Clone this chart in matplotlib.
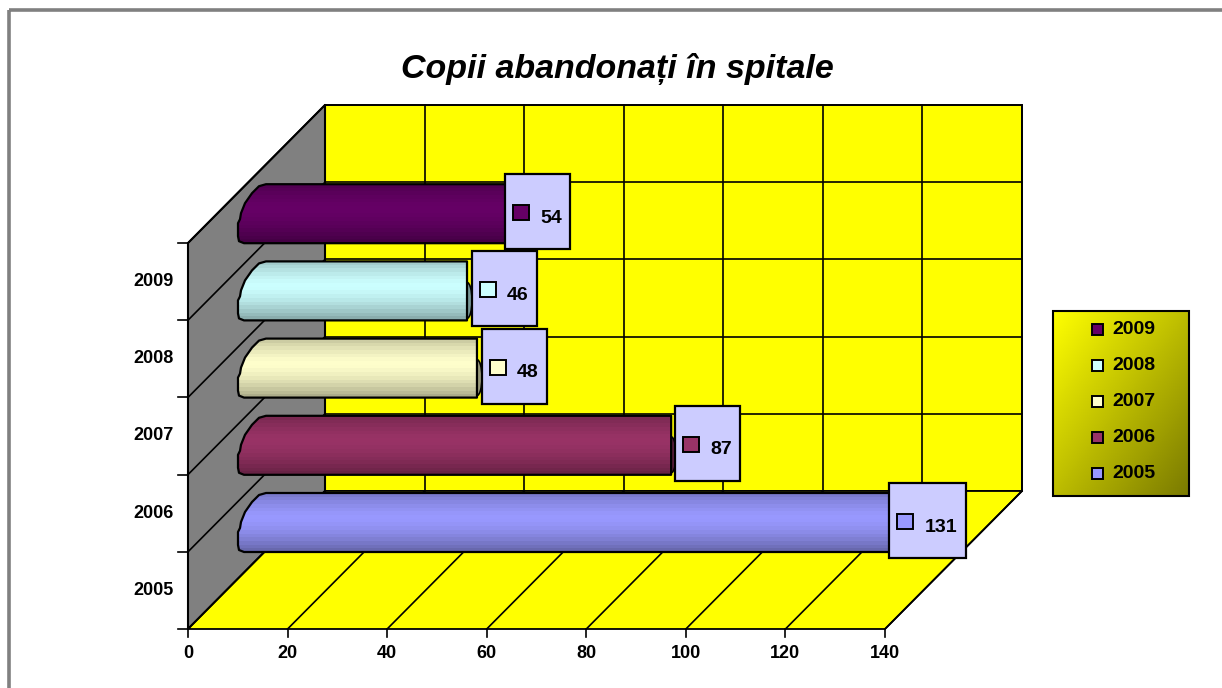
#!/usr/bin/env python3
"""Copii abandonati in spitale: Excel-style 3D cylinder bars with data boxes."""
import numpy as np
import matplotlib
matplotlib.use("Agg")
import matplotlib.pyplot as plt
from matplotlib.colors import LinearSegmentedColormap
from matplotlib.patches import PathPatch, Rectangle
from matplotlib.path import Path

plt.rcParams["font.family"] = ["Liberation Sans", "DejaVu Sans"]

TITLE = "Copii abandonați în spitale"
YEARS = ["2005", "2006", "2007", "2008", "2009"]
VALUES = [131, 87, 48, 46, 54]
COLORS = ["#9999FF", "#993366", "#FFFFCC", "#CCFFFF", "#660066"]
XTICKS = [0, 20, 40, 60, 80, 100, 120, 140]

W, H = 1222, 688
# projection, in pixels
X0, X1 = 188, 885      # value 0 and 140 on the front edge
Y_FRONT, ROW = 629, 77.2
DX, DY = 137, 138      # depth shift to the back wall
TOP = 243              # front top of the wall
BAR_X = 50             # bars sit this far in from the front plane
BOX_NUDGE = [-1, 4, 5, 5, -2]

PX = (X1 - X0) / 140
BLACK = "#000000"


def vx(v):
    return X0 + v * PX


def shade(hex_color, f):
    c = np.array(matplotlib.colors.to_rgb(hex_color))
    return c * f


def draw_bar(ax, value, color, bottom):
    left = X0 + BAR_X
    right = left + value * PX
    top = bottom - 59
    verts = [(right, bottom), (left + 6, bottom), (left + 1, bottom - 2), (left, bottom - 7),
             (left, bottom - 20), (left + 2, bottom - 24), (left + 3, bottom - 30),
             (left + 7, bottom - 40), (left + 14, bottom - 50), (left + 21, bottom - 57),
             (left + 28, top), (right, top), (right, bottom)]
    # dark end cap, mostly hidden behind the label box
    ax.add_patch(plt.matplotlib.patches.Ellipse((right, bottom - 20), 10, 36, fc=shade(color, 0.6),
                                                ec=BLACK, lw=1.2, zorder=3))
    path = Path(verts + [verts[0]], [Path.MOVETO] + [Path.LINETO] * (len(verts) - 1) + [Path.CLOSEPOLY])
    outline = PathPatch(path, fc="none", ec=BLACK, lw=1.6, zorder=5, joinstyle="round")
    # stepped vertical shading: dark at the edges, lightest just above the middle
    t = np.linspace(0, 1, 16)
    f = 1 - 0.32 * np.abs(t - 0.42) ** 1.5 / 0.58 ** 1.5 * 1.0
    img = np.array([shade(color, k) for k in f])[:, None, :]
    im = ax.imshow(img, extent=(left, right, bottom, top), aspect="auto", zorder=4,
                   interpolation="nearest", origin="upper")
    im.set_clip_path(PathPatch(path, transform=ax.transData))
    ax.add_patch(outline)


def draw_box(ax, value, color, label, bottom, nudge):
    left = X0 + BAR_X + value * PX + nudge
    width = 77 if value > 99 else 65
    ax.add_patch(Rectangle((left, bottom - 69), width, 75, fc="#CCCCFF", ec=BLACK, lw=1.6, zorder=6))
    ax.add_patch(Rectangle((left + 8, bottom - 38), 16, 15, fc=color, ec=BLACK, lw=1.4, zorder=7))
    ax.text(left + width - (25 if value > 99 else 19), bottom - 25, label, fontsize=14, fontweight="bold",
            ha="center", va="center", zorder=7)


def main():
    fig = plt.figure(figsize=(W / 100, H / 100), dpi=100)
    ax = fig.add_axes([0, 0, 1, 1])
    ax.set_xlim(0, W)
    ax.set_ylim(H, 0)
    ax.axis("off")

    # chart-area frame
    ax.add_patch(Rectangle((9, 10), W + 20, H + 20, fc="none", ec="#808080", lw=2.6, zorder=1))
    ax.text(617, 69, TITLE, fontsize=24.5, fontweight="bold", fontstyle="italic", ha="center", va="center")

    # back wall, side wall, floor
    y_back = Y_FRONT - DY
    ax.add_patch(Rectangle((X0 + DX, TOP - DY), X1 - X0, Y_FRONT - TOP, fc="#FFFF00", ec=BLACK, lw=1.3, zorder=2))
    ax.fill([X0, X0 + DX, X0 + DX, X0], [TOP, TOP - DY, y_back, Y_FRONT], fc="#808080", ec=BLACK, lw=1.5, zorder=2)
    ax.fill([X0, X1, X1 + DX, X0 + DX], [Y_FRONT, Y_FRONT, y_back, y_back], fc="#FFFF00", ec=BLACK, lw=1.3, zorder=2)

    for k in range(len(YEARS) + 1):
        y = Y_FRONT - k * ROW
        ax.plot([X0 - 10, X0], [y, y], color=BLACK, lw=1.2, zorder=3)
        if k:
            ax.plot([X0, X0 + DX], [y, y - DY], color=BLACK, lw=1.2, zorder=3)
            ax.plot([X0 + DX, X1 + DX], [y - DY, y - DY], color=BLACK, lw=1.2, zorder=3)
    for t in XTICKS:
        x = vx(t)
        ax.plot([x, x], [Y_FRONT, Y_FRONT + 8], color=BLACK, lw=1.2, zorder=3)
        ax.plot([x, x + DX], [Y_FRONT, y_back], color=BLACK, lw=1.2, zorder=3)
        ax.plot([x + DX, x + DX], [y_back, TOP - DY], color=BLACK, lw=1.2, zorder=3)
        ax.text(x, 654, str(t), fontsize=13, fontweight="bold", ha="center", va="center")

    for i, year in enumerate(YEARS):
        ax.text(153, Y_FRONT - (i + 0.5) * ROW, year, fontsize=13, fontweight="bold", ha="center", va="center")
        bottom = Y_FRONT - (i + 1) * ROW + 0.2
        draw_bar(ax, VALUES[i], COLORS[i], bottom)
    for i, year in enumerate(YEARS):
        bottom = Y_FRONT - (i + 1) * ROW + 0.2
        draw_box(ax, VALUES[i], COLORS[i], str(VALUES[i]), bottom, BOX_NUDGE[i])

    # legend with diagonal yellow-to-olive fill
    lx0, lx1, ly0, ly1 = 1053, 1190, 311, 496
    cmap = LinearSegmentedColormap.from_list("leg", ["#FFFF00", "#7A7A00"])
    gx, gy = np.meshgrid(np.linspace(0, 1, 64), np.linspace(0, 1, 64))
    ax.imshow((gx + gy) / 2, extent=(lx0, lx1, ly1, ly0), cmap=cmap, aspect="auto", zorder=2, origin="upper")
    ax.add_patch(Rectangle((lx0, ly0), lx1 - lx0 - 1, ly1 - ly0, fc="none", ec=BLACK, lw=1.5, zorder=3))
    for i, year in enumerate(YEARS):
        y = 474 - i * 36
        ax.add_patch(Rectangle((1091.5, y - 6), 11, 11, fc=COLORS[i], ec=BLACK, lw=1.4, zorder=4))
        ax.text(1134, y, year, fontsize=14, fontweight="bold", ha="center", va="center", zorder=4)

    ax.set_xlim(0, W)
    ax.set_ylim(H, 0)
    fig.savefig("out.png", dpi=100)


if __name__ == "__main__":
    main()
